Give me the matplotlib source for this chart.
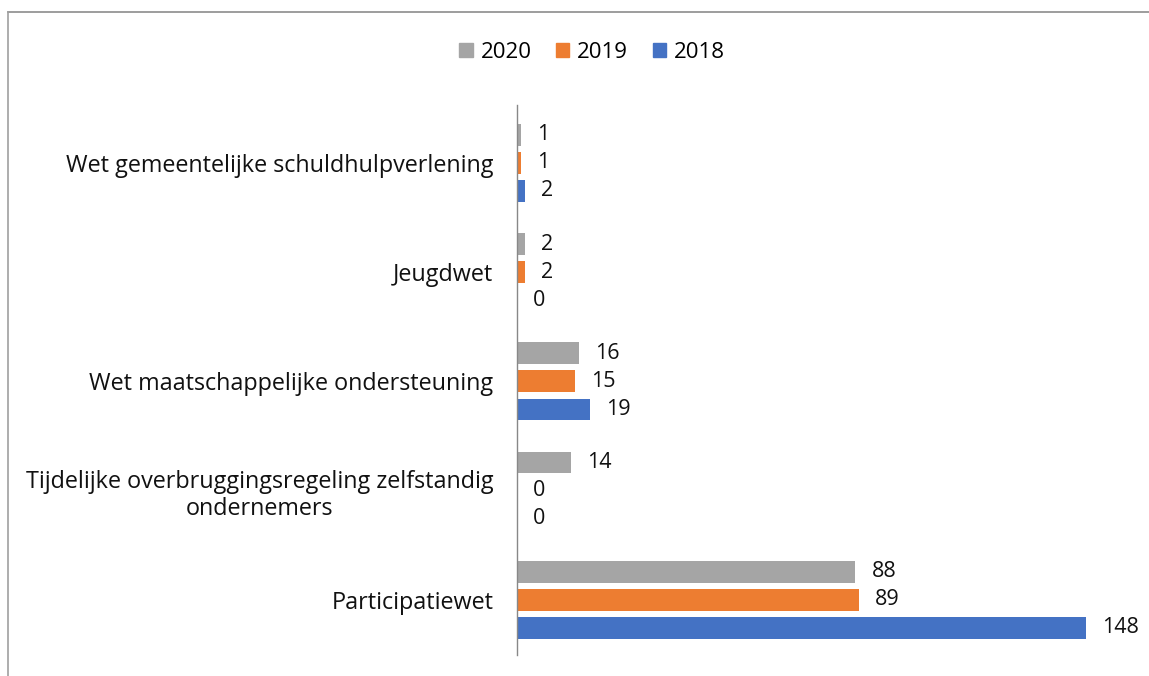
import matplotlib.pyplot as plt
from matplotlib.lines import Line2D
import numpy as np

plt.rcParams['font.family'] = ['Open Sans', 'DejaVu Sans']

# Data (bottom to top as drawn)
categories = ['Participatiewet',
              'Tijdelijke overbruggingsregeling zelfstandig\nondernemers',
              'Wet maatschappelijke ondersteuning',
              'Jeugdwet',
              'Wet gemeentelijke schuldhulpverlening']
years = ['2020', '2019', '2018']
values_2020 = [88, 14, 16, 2, 1]
values_2019 = [89, 0, 15, 2, 1]
values_2018 = [148, 0, 19, 0, 2]

colors = {'2020': '#A5A5A5', '2019': '#ED7D31', '2018': '#4472C4'}
series = {'2020': values_2020, '2019': values_2019, '2018': values_2018}

fig = plt.figure(figsize=(11.49, 6.76), dpi=100)
ax = fig.add_axes([517 / 1149, 1 - 655 / 676, 615 / 1149, 550 / 676])

y = np.arange(len(categories))
bar_h = 0.2
step = 0.257
offsets = {'2020': step, '2019': 0.0, '2018': -step}

for yr in years:
    vals = series[yr]
    bars = ax.barh(y + offsets[yr], vals, height=bar_h, color=colors[yr], label=yr)
    for b, v in zip(bars, vals):
        ax.text(b.get_width() + 4.2, b.get_y() + b.get_height() / 2, str(v),
                va='center', ha='left', fontsize=15.5, color='#111111')

ax.set_xlim(0, 160)
ax.set_ylim(-0.505, 4.53)
ax.set_yticks(y)
ax.set_yticklabels(categories, fontsize=16.8, color='#111111', ha='right',
                   multialignment='center', linespacing=1.2)
ax.tick_params(axis='y', length=0, pad=17)
ax.set_xticks([])
for s in ['top', 'right', 'bottom']:
    ax.spines[s].set_visible(False)
ax.spines['left'].set_color('#888888')
ax.spines['left'].set_linewidth(1)

handles = [plt.Rectangle((0, 0), 1, 1, color=colors[yr]) for yr in years]
fig.legend(handles, years, loc='center', bbox_to_anchor=(592 / 1149, 1 - 52 / 676),
           ncol=3, frameon=False, fontsize=16, handlelength=0.6, handleheight=0.6,
           handletextpad=0.35, columnspacing=1.1)

# outer border (top and left visible)
fig.add_artist(Line2D([8 / 1149, 1], [1 - 12 / 676, 1 - 12 / 676], color='#8c8c8c', lw=1.2))
fig.add_artist(Line2D([8 / 1149, 8 / 1149], [0, 1 - 12 / 676], color='#a0a0a0', lw=1.2))

fig.savefig('out.png', dpi=100)
